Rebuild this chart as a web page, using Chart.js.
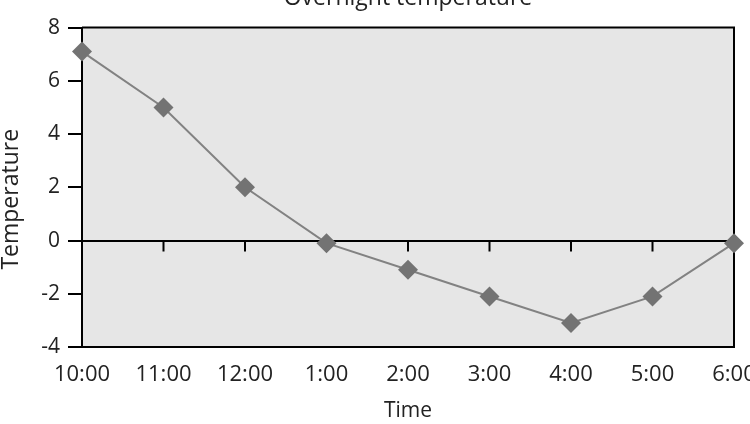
<!DOCTYPE html>
<html>
<head>
<meta charset="utf-8">
<script src="https://cdn.jsdelivr.net/npm/chart.js@4.4.0/dist/chart.umd.min.js"></script>
<style>
  html, body { margin: 0; padding: 0; background: #fff; overflow: hidden; }
  #wrap { position: absolute; left: 0; top: -16px; width: 750px; height: 440px; }
</style>
</head>
<body>
<div id="wrap"><canvas id="myChart"></canvas></div>
<script>
const timeLabels = ['10:00', '11:00', '12:00', '1:00', '2:00', '3:00', '4:00', '5:00', '6:00'];
const temperatures = [7.1, 5, 2, -0.1, -1.1, -2.1, -3.1, -2.1, -0.1];
const yMin = -4;
const yMax = 8;
const yStep = 2;

const textColor = '#222';
const fontFamily = '"Open Sans", "Noto Sans", sans-serif';

// plot background, top/right frame and the little ticks on the zero line
const plotFrame = {
  id: 'plotFrame',
  beforeDraw(chart) {
    const { ctx, chartArea: a } = chart;
    ctx.save();
    ctx.fillStyle = '#e6e6e6';
    ctx.fillRect(a.left, a.top, a.right - a.left, a.bottom - a.top);
    ctx.restore();
  },
  beforeDatasetsDraw(chart) {
    const { ctx, chartArea: a, scales } = chart;
    const y0 = scales.y.getPixelForValue(0);
    ctx.save();
    ctx.strokeStyle = '#000';
    ctx.lineWidth = 2;
    ctx.beginPath();
    ctx.moveTo(a.left, a.top);
    ctx.lineTo(a.right, a.top);
    ctx.lineTo(a.right, a.bottom);
    ctx.stroke();
    ctx.beginPath();
    timeLabels.forEach((t, i) => {
      const x = scales.x.getPixelForValue(i);
      ctx.moveTo(x, y0);
      ctx.lineTo(x, y0 + 11);
    });
    ctx.stroke();
    ctx.restore();
  }
};

const ctx = document.getElementById('myChart').getContext('2d');
const chart = new Chart(ctx, {
  type: 'line',
  data: {
    labels: timeLabels,
    datasets: [{
      label: 'Temperature',
      data: temperatures,
      borderColor: '#828282',
      borderWidth: 2,
      backgroundColor: '#737373',
      pointStyle: 'rectRot',
      pointRadius: 10,
      pointHoverRadius: 10,
      pointBorderWidth: 0,
      pointBackgroundColor: '#737373',
      tension: 0,
      clip: false
    }]
  },
  options: {
    responsive: true,
    maintainAspectRatio: false,
    animation: false,
    layout: { autoPadding: false, padding: { left: 0, right: 16, top: 0, bottom: 0 } },
    plugins: {
      legend: { display: false },
      tooltip: { enabled: false },
      title: {
        display: true,
        fullSize: false,
        text: 'Overnight temperature',
        color: textColor,
        font: { family: fontFamily, size: 23, weight: 'normal' },
        padding: { top: 1, bottom: 15 }
      }
    },
    scales: {
      x: {
        type: 'category',
        offset: false,
        grid: { display: false },
        border: { display: true, color: '#000', width: 2 },
        ticks: {
          color: textColor,
          font: { family: fontFamily, size: 22 },
          padding: 7,
          maxRotation: 0,
          autoSkip: false
        },
        title: {
          display: true,
          text: 'Time',
          color: textColor,
          font: { family: fontFamily, size: 21 },
          padding: { top: 0, bottom: 0 }
        },
        afterFit(scale) {
          scale.height = 77;
          scale.paddingLeft = 0;
          scale.paddingRight = 0;
        }
      },
      y: {
        min: yMin,
        max: yMax,
        ticks: {
          stepSize: yStep,
          color: textColor,
          font: { family: fontFamily, size: 21 },
          padding: 8
        },
        grid: {
          color: c => (c.tick && c.tick.value === 0 ? '#000' : 'rgba(0,0,0,0)'),
          lineWidth: 2,
          drawTicks: true,
          tickLength: 14,
          tickColor: '#000',
          tickWidth: 2
        },
        border: { display: true, color: '#000', width: 2 },
        title: {
          display: true,
          text: 'Temperature    ',
          color: textColor,
          font: { family: fontFamily, size: 23, lineHeight: 1 },
          padding: { top: 0, bottom: 0 }
        },
        afterFit(scale) { scale.width = 82; }
      }
    }
  },
  plugins: [plotFrame]
});
</script>
</body>
</html>
